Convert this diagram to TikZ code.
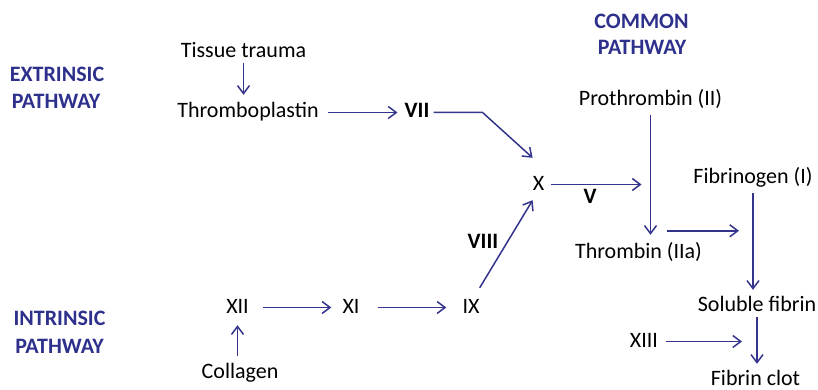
\documentclass[tikz,border=0pt]{standalone}
\usepackage{fontspec}
\setmainfont{Carlito}
\usetikzlibrary{arrows.meta,calc}
\definecolor{pathblue}{RGB}{46,49,140}
\definecolor{flowblue}{RGB}{52,52,140}
\begin{document}
\begin{tikzpicture}[x=1pt,y=-1pt,
  lbl/.style={anchor=base,inner sep=0pt,text height=15pt,text depth=4pt,
    font=\fontsize{22}{26}\selectfont},
  factor/.style={lbl,font=\fontsize{22}{26}\selectfont\bfseries},
  phase/.style={anchor=base,inner sep=0pt,text=pathblue,
    font=\fontsize{22}{26}\selectfont\bfseries},
  arr/.style={draw=flowblue,line width=1.5pt,
    -{Straight Barb[length=8pt,width=12pt,line width=1.5pt]}}]
\useasboundingbox (0,0) rectangle (818,390);

% pathway headings
\node[phase] (ext1) at (57,82) {EXTRINSIC};
\node[phase] (ext2) at (56,109) {PATHWAY};
\node[phase] (int1) at (59.5,325) {INTRINSIC};
\node[phase] (int2) at (59.5,353) {PATHWAY};
\node[phase] (com1) at (641.5,29) {COMMON};
\node[phase] (com2) at (642,55) {PATHWAY};

% extrinsic branch
\node[lbl] (tissue) at (243.5,58) {Tissue trauma};
\node[lbl] (thrombo) at (248,118) {Thromboplastin};
\node[factor] (vii) at (417,118) {VII};

% intrinsic branch
\node[lbl] (xii) at (237.5,313) {XII};
\node[lbl] (xi) at (351,313) {XI};
\node[lbl] (ix) at (471,313) {IX};
\node[lbl] (collagen) at (240,378) {Collagen};
\node[factor] (viii) at (483,248) {VIII};

% common pathway
\node[lbl] (xf) at (538.5,190) {X};
\node[factor] (v) at (590,203) {V};
\node[lbl] (pro) at (650.5,106) {Prothrombin (II)};
\node[lbl] (thrombin) at (638.5,258) {Thrombin (IIa)};
\node[lbl] (fib) at (753,183) {Fibrinogen (I)};
\node[lbl] (sol) at (757,311) {Soluble fibrin};
\node[lbl] (xiii) at (644,347) {XIII};
\node[lbl,text depth=0pt] (clot) at (755.5,385) {Fibrin clot};

% extrinsic connectors
\draw[arr,shorten <=1pt,shorten >=8pt] (tissue.south) -- (tissue.south |- thrombo.north);
\draw[arr,shorten <=9pt,shorten >=7pt] (thrombo.east) -- (thrombo.east -| vii.west);
\draw[arr] ([xshift=4pt]vii.east) -- ++(49,0) -- ([shift={(0,-17)}]xf.north west);

% intrinsic connectors
\draw[arr,shorten <=7pt,shorten >=8pt] (collagen.north -| xii.south) -- (xii.south);
\draw[arr,shorten <=14pt,shorten >=11pt] (xii.east) -- (xii.east -| xi.west);
\draw[arr,shorten <=18pt,shorten >=16pt] (xi.east) -- (xi.east -| ix.west);
\draw[arr] ([shift={(0,-10)}]ix.north east) -- ([shift={(0,6)}]xf.south west);

% common pathway connectors
\draw[arr,shorten <=6.5pt,shorten >=9pt] (xf.east) -- (xf.east -| pro.south);
\draw[arr,shorten <=5pt,shorten >=8pt] (pro.south) -- (pro.south |- thrombin.north);
\draw[arr] ($(pro.south |- thrombin.north)+(16,-12)$) -- ($(fib.south |- thrombin.north)+(-14,-12)$);
\draw[arr,shorten <=6pt,shorten >=6pt] (fib.south) -- (fib.south |- sol.north);
\draw[arr,shorten <=2pt,shorten >=6pt] (sol.south) -- (sol.south |- clot.north);
\draw[arr,shorten <=8pt,shorten >=15pt] (xiii.east) -- (xiii.east -| sol.south);
\end{tikzpicture}
\end{document}
